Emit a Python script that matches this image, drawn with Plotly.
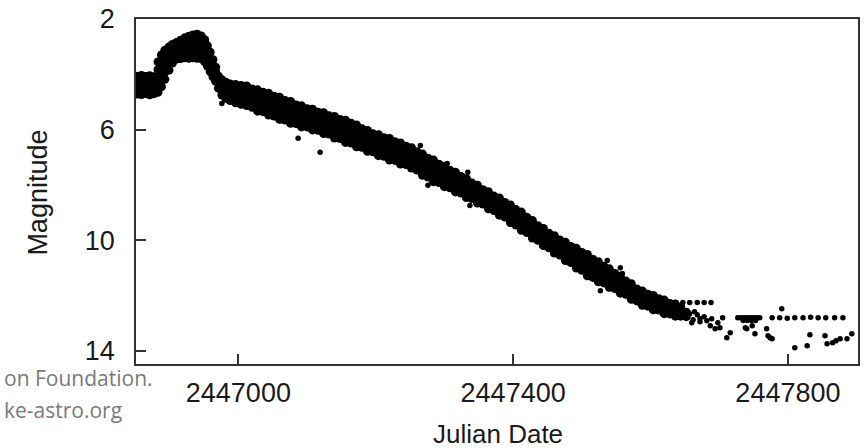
import plotly.graph_objects as go

# ---- data ----
# dense part of the light curve: Julian Date of each group of estimates ...
band_jd = [
    2446853, 2446859, 2446865, 2446871, 2446877, 2446883, 2446888, 2446893,
    2446899, 2446904, 2446910, 2446916, 2446922, 2446928, 2446934, 2446940,
    2446946, 2446951, 2446955, 2446959, 2446963, 2446967, 2446971, 2446976,
    2446982, 2446988, 2446996,
    2447004, 2447012, 2447020, 2447028, 2447036, 2447044, 2447052, 2447060,
    2447068, 2447076, 2447084, 2447092, 2447100, 2447108, 2447116, 2447124,
    2447132, 2447140, 2447148, 2447156, 2447164, 2447172, 2447180, 2447188,
    2447196, 2447204, 2447212, 2447220, 2447228, 2447236, 2447244, 2447252,
    2447260, 2447268, 2447276, 2447284, 2447292, 2447300, 2447308, 2447316,
    2447324, 2447332, 2447340, 2447348, 2447356, 2447364, 2447372, 2447380,
    2447388, 2447396, 2447404, 2447412, 2447420, 2447428, 2447436, 2447444,
    2447452, 2447460, 2447468, 2447476, 2447484, 2447492, 2447500, 2447508,
    2447516, 2447524, 2447532, 2447540, 2447548, 2447556, 2447564, 2447572,
    2447580, 2447588, 2447596, 2447604, 2447612, 2447620, 2447628, 2447636,
    2447644, 2447652,
]
# ... and the magnitudes estimated around that date
band_mag = [
    [4.07, 4.28, 4.50, 4.71], [4.04, 4.27, 4.49, 4.73], [4.08, 4.29, 4.51, 4.69],
    [4.05, 4.28, 4.50, 4.74], [4.09, 4.30, 4.50, 4.70],
    [3.55, 3.83, 4.10, 4.38, 4.65], [3.30, 3.59, 3.88, 4.16, 4.45],
    [3.13, 3.39, 3.66, 3.92, 4.18], [3.01, 3.29, 3.57, 3.85],
    [2.92, 3.14, 3.37, 3.59], [2.85, 3.05, 3.25, 3.45], [2.77, 2.98, 3.20, 3.43],
    [2.68, 2.92, 3.17, 3.40], [2.62, 2.88, 3.15, 3.42], [2.58, 2.86, 3.13, 3.40],
    [2.55, 2.84, 3.13, 3.42], [2.61, 2.88, 3.16, 3.43], [2.75, 3.02, 3.28, 3.55],
    [2.97, 3.21, 3.46, 3.70], [3.20, 3.43, 3.67, 3.90], [3.47, 3.68, 3.88, 4.09],
    [3.74, 3.91, 4.08, 4.25], [4.07, 4.28, 4.50], [4.20, 4.38, 4.57, 4.75],
    [4.29, 4.48, 4.66, 4.87], [4.35, 4.55, 4.75, 4.95], [4.37, 4.58, 4.80, 5.03],
    [4.40, 4.62, 4.83, 5.08], [4.42, 4.68, 4.90, 5.13], [4.53, 4.74, 4.98, 5.19],
    [4.56, 4.81, 5.05, 5.33], [4.65, 4.88, 5.12, 5.35], [4.68, 4.95, 5.20, 5.47],
    [4.79, 5.02, 5.28, 5.51], [4.83, 5.10, 5.35, 5.63], [4.95, 5.18, 5.42, 5.65],
    [4.98, 5.25, 5.49, 5.77], [5.11, 5.33, 5.56, 5.78], [5.14, 5.40, 5.63, 5.90],
    [5.24, 5.45, 5.69, 5.90], [5.26, 5.51, 5.74, 6.01], [5.37, 5.58, 5.80, 6.02],
    [5.39, 5.64, 5.87, 6.14], [5.50, 5.71, 5.95, 6.16], [5.52, 5.78, 6.02, 6.30],
    [5.63, 5.85, 6.10, 6.32], [5.66, 5.93, 6.17, 6.46], [5.77, 6.00, 6.25, 6.48],
    [5.83, 6.09, 6.34, 6.62], [5.97, 6.19, 6.42, 6.64], [6.03, 6.28, 6.51, 6.78],
    [6.15, 6.36, 6.59, 6.80], [6.18, 6.43, 6.67, 6.94], [6.29, 6.51, 6.74, 6.96],
    [6.32, 6.58, 6.82, 7.10], [6.44, 6.66, 6.89, 7.11], [6.48, 6.73, 6.97, 7.24],
    [6.60, 6.81, 7.04, 7.26], [6.65, 6.90, 7.12, 7.39], [6.80, 7.01, 7.25, 7.46],
    [6.88, 7.14, 7.37, 7.65], [7.03, 7.25, 7.49, 7.71], [7.10, 7.36, 7.60, 7.88],
    [7.25, 7.46, 7.70, 7.91], [7.32, 7.57, 7.79, 8.06], [7.47, 7.67, 7.90, 8.10],
    [7.54, 7.78, 7.99, 8.25], [7.69, 7.88, 8.10, 8.29], [7.77, 8.00, 8.20, 8.45],
    [7.93, 8.11, 8.31, 8.49], [8.01, 8.22, 8.42, 8.65], [8.17, 8.34, 8.52, 8.69],
    [8.24, 8.45, 8.63, 8.86], [8.40, 8.57, 8.75, 8.92], [8.47, 8.68, 8.86, 9.09],
    [8.63, 8.80, 8.99, 9.16], [8.72, 8.93, 9.13, 9.36], [8.89, 9.07, 9.27, 9.45],
    [8.98, 9.20, 9.40, 9.64], [9.17, 9.35, 9.54, 9.72], [9.28, 9.49, 9.69, 9.92],
    [9.47, 9.64, 9.83, 10.00], [9.57, 9.78, 9.96, 10.19], [9.74, 9.91, 10.10, 10.27],
    [9.83, 10.04, 10.23, 10.46], [9.99, 10.16, 10.36, 10.53], [10.07, 10.29, 10.49, 10.73],
    [10.22, 10.41, 10.61, 10.80], [10.29, 10.53, 10.74, 11.00], [10.44, 10.65, 10.87, 11.08],
    [10.51, 10.77, 11.00, 11.28], [10.68, 10.89, 11.13, 11.34], [10.77, 11.01, 11.24, 11.50],
    [10.94, 11.13, 11.35, 11.54], [11.03, 11.25, 11.46, 11.70], [11.20, 11.37, 11.57, 11.74],
    [11.30, 11.50, 11.69, 11.91], [11.47, 11.62, 11.80, 11.95], [11.57, 11.76, 11.92, 12.13],
    [11.76, 11.90, 12.05, 12.19], [11.83, 12.00, 12.16, 12.35], [11.95, 12.09, 12.24, 12.38],
    [11.99, 12.16, 12.32, 12.51], [12.11, 12.24, 12.39, 12.52], [12.16, 12.32, 12.47, 12.65],
    [12.28, 12.40, 12.54, 12.66], [12.30, 12.44, 12.58, 12.74], [12.42, 12.58, 12.74],
    [12.60, 12.76],
]

# isolated / sparse estimates
sparse_jd = [
    2446976, 2447087, 2447119, 2447265, 2447276, 2447304, 2447334, 2447337,
    2447527, 2447537, 2447556, 2447559,
    2447637, 2447647, 2447657, 2447668, 2447678, 2447688,
    2447652, 2447657, 2447660, 2447662, 2447664, 2447668, 2447672, 2447672,
    2447678, 2447682, 2447687, 2447689, 2447694, 2447698, 2447701, 2447705,
    2447711, 2447716,
    2447727, 2447731, 2447735, 2447739, 2447743, 2447747, 2447751, 2447755, 2447759,
    2447735, 2447741, 2447747, 2447753,
    2447777, 2447788, 2447799, 2447810, 2447822, 2447833, 2447844, 2447855,
    2447868, 2447880, 2447791,
    2447738, 2447740, 2447748, 2447752, 2447769, 2447771, 2447774, 2447777,
    2447810, 2447828, 2447832, 2447854, 2447857, 2447865, 2447870, 2447876,
    2447886, 2447893,
]
sparse_mag = [
    5.05, 6.31, 6.82, 6.57, 8.01, 7.22, 7.54, 8.74,
    11.82, 10.73, 10.99, 11.20,
    12.25, 12.25, 12.25, 12.25, 12.25, 12.25,
    12.80, 12.65, 12.98, 12.87, 12.58, 12.69, 12.83, 12.94,
    12.76, 12.91, 13.09, 12.83, 13.20, 12.98, 13.16, 12.80,
    13.52, 13.34,
    12.80, 12.80, 12.80, 12.80, 12.80, 12.80, 12.80, 12.80, 12.80,
    12.90, 12.90, 12.90, 12.90,
    12.80, 12.80, 12.82, 12.80, 12.80, 12.78, 12.80, 12.80,
    12.80, 12.80, 12.47,
    13.16, 13.20, 13.09, 13.38, 13.20, 13.45, 13.52, 13.56,
    13.88, 13.81, 13.41, 13.45, 13.74, 13.70, 13.63, 13.56,
    13.56, 13.38,
]

x_ticks = [2447000, 2447400, 2447800]
x_tick_labels = ["2447000", "2447400", "2447800"]
y_ticks = [2, 6, 10, 14]
y_tick_labels = ["2", "6", "10", "14"]

# ---- build the figure ----
dense_x, dense_y = [], []
for d, mags in zip(band_jd, band_mag):
    for m in mags:
        dense_x.append(d)
        dense_y.append(m)

fig = go.Figure()
fig.add_trace(go.Scatter(
    x=dense_x, y=dense_y, mode="markers",
    marker=dict(color="black", size=9, line=dict(width=0)),
    showlegend=False, hoverinfo="x+y",
))
fig.add_trace(go.Scatter(
    x=sparse_jd, y=sparse_mag, mode="markers",
    marker=dict(color="black", size=5.5, line=dict(width=0)),
    showlegend=False, hoverinfo="x+y",
))

font_main = "Liberation Sans, Arial, Helvetica, sans-serif"
axis_common = dict(
    showline=True, mirror=True, linecolor="#333333", linewidth=1.5,
    ticks="inside", ticklen=10, tickwidth=1.5, tickcolor="#333333",
    showgrid=False, zeroline=False, automargin=False,
    tickfont=dict(family=font_main, size=27, color="#1a1a1a"),
)

fig.update_layout(
    width=865, height=448,
    margin=dict(l=136, r=7, t=19, b=84),
    paper_bgcolor="white", plot_bgcolor="white",
    xaxis=dict(range=[2446851, 2447902], tickvals=x_ticks, ticktext=x_tick_labels,
               ticklabelstandoff=4, **axis_common),
    yaxis=dict(range=[14.47, 2.0], tickvals=y_ticks, ticktext=y_tick_labels,
               ticklabelstandoff=14, **axis_common),
    annotations=[
        dict(text="Julian Date", xref="paper", yref="paper", x=0.501, y=-0.203,
             xanchor="center", yanchor="middle", showarrow=False,
             font=dict(family=font_main, size=26, color="#1a1a1a")),
        dict(text="Magnitude", xref="paper", yref="paper", x=-0.137, y=0.497,
             xanchor="center", yanchor="middle", textangle=-90, showarrow=False,
             font=dict(family=font_main, size=27, color="#1a1a1a")),
        dict(text="on Foundation.", xref="paper", yref="paper", x=(2 - 136) / 722,
             y=(364 - 378) / 345, xanchor="left", yanchor="middle", showarrow=False,
             font=dict(family="Open Sans, sans-serif", size=21, color="#7a7a7a")),
        dict(text="ke-astro.org", xref="paper", yref="paper", x=(2 - 136) / 722,
             y=(364 - 410) / 345, xanchor="left", yanchor="middle", showarrow=False,
             font=dict(family="Open Sans, sans-serif", size=21, color="#7a7a7a")),
    ],
)

# the page's default 8px body margin would shift the whole figure; remove it
fig.write_html("out.html", config={"displayModeBar": False},
               post_script="document.body.style.margin='0';document.body.style.overflow='hidden';")
